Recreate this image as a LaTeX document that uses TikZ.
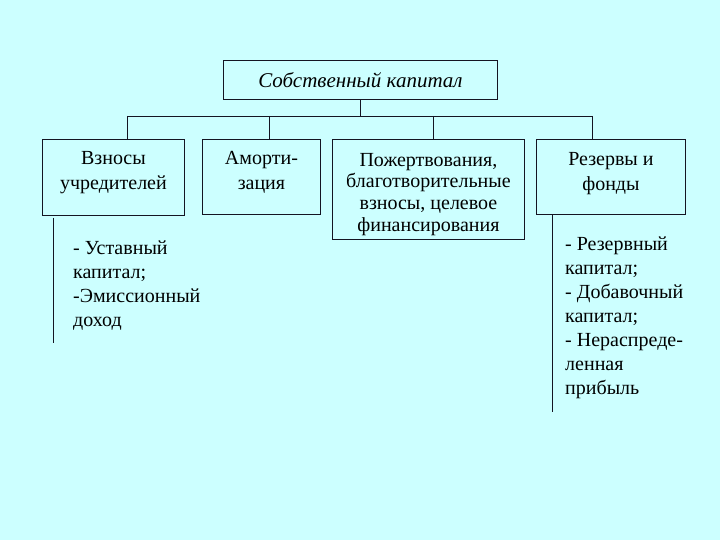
\documentclass[tikz,border=0pt]{standalone}
\usepackage{fontspec}
\setmainfont{Liberation Serif}
\definecolor{PageCyan}{HTML}{CCFFFF}
\definecolor{LineNavy}{HTML}{141422}
\usetikzlibrary{positioning,calc}

\begin{document}
\begin{tikzpicture}[x=1pt,y=-1pt,
  box/.style={draw=LineNavy,line width=0.9pt,anchor=north west,inner sep=0pt},
  boxtext/.style={align=center,anchor=north,inner sep=0pt,font=\fontsize{20}{25}\selectfont},
  note/.style={align=left,anchor=north west,inner sep=0pt,font=\fontsize{20}{24}\selectfont},
  wire/.style={LineNavy,line width=0.9pt}
]
  \fill[PageCyan] (0,0) rectangle (720,540);
  \useasboundingbox (0,0) rectangle (720,540);

  % top box and the four columns
  \node[box,minimum width=274pt,minimum height=39pt,font=\fontsize{21}{25}\selectfont\itshape] (top) at (223,60) {Собственный капитал};
  \node[box,minimum width=142pt,minimum height=76pt] (vznosy) at (42,139) {};
  \node[box,minimum width=118pt,minimum height=75pt] (amort) at (202,139) {};
  \node[box,minimum width=192pt,minimum height=100pt] (pozhert) at (332,139) {};
  \node[box,minimum width=149pt,minimum height=75pt] (rezerv) at (536,139) {};
  \node[boxtext,below=12pt of vznosy.north] (vznosyT) {Взносы\\учредителей};
  \node[boxtext,below=12pt of amort.north] (amortT) {Аморти-\\зация};
  \node[boxtext,below=14pt of pozhert.north,font=\fontsize{20}{21.7}\selectfont] (pozhertT) {Пожертвования,\\благотворительные\\взносы, целевое\\финансирования};
  \node[boxtext,below=13pt of rezerv.north] (rezervT) {Резервы и\\фонды};

  % bus
  \coordinate (tapA) at (127,116);
  \coordinate (tapB) at (269,116);
  \coordinate (tapC) at (433,116);
  \coordinate (tapD) at (592,116);
  \draw[wire] (top.south) -- (top.south |- tapA);
  \draw[wire] (tapA) -- (tapD);
  \draw[wire] (tapA) -- (tapA |- vznosy.north);
  \draw[wire] (tapB) -- (tapB |- amort.north);
  \draw[wire] (tapC) -- (tapC |- pozhert.north);
  \draw[wire] (tapD) -- (tapD |- rezerv.north);

  % lists under the boxes
  \node[note] (listA) at (73,241) {- Уставный\\капитал;\\-Эмиссионный\\доход};
  \node[note] (listD) at (565,237) {- Резервный\\капитал;\\- Добавочный\\капитал;\\- Нераспреде-\\ленная\\прибыль};
  \coordinate (ruleA) at (53,218);
  \coordinate (ruleD) at (552,215);
  \draw[wire] (ruleA) -- ++(0,125);
  \draw[wire] (ruleD) -- ++(0,197);
\end{tikzpicture}
\end{document}
